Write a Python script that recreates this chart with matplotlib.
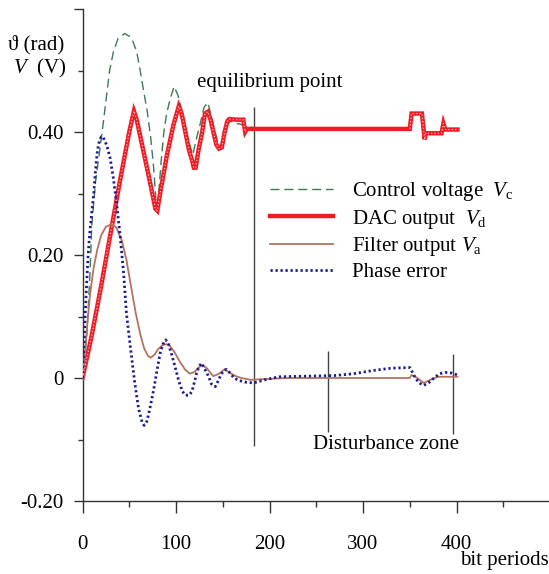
import matplotlib
matplotlib.use("Agg")
import matplotlib.pyplot as plt
from matplotlib.ticker import FixedLocator

plt.rcParams['font.family'] = ['Liberation Serif', 'DejaVu Serif']
plt.rcParams['mathtext.fontset'] = 'custom'
plt.rcParams['mathtext.rm'] = 'Liberation Serif'
plt.rcParams['mathtext.it'] = 'Liberation Serif:italic'

# ---- data (bit periods, value) ----
ctrl_x = [0, 3, 5, 8, 10, 14, 18, 21, 25, 29, 33, 38, 45, 50, 54, 58, 61, 65, 69, 73, 76, 79,
          81, 84, 87, 90, 94, 98, 102, 106, 110, 113, 118, 122, 126, 130, 134, 138, 142, 147,
          151, 154, 158, 163, 168, 175, 185, 250, 350, 352, 355, 363, 366, 368, 384, 386, 388, 401]
ctrl_y = [0, 0.04, 0.08, 0.17, 0.25, 0.32, 0.365, 0.40, 0.45, 0.50, 0.53, 0.552, 0.56, 0.556,
          0.547, 0.53, 0.506, 0.47, 0.436, 0.39, 0.344, 0.28,
          0.29, 0.35, 0.40, 0.43, 0.455, 0.474, 0.46, 0.436, 0.41, 0.387, 0.363, 0.39, 0.414,
          0.44, 0.448, 0.425, 0.398, 0.372, 0.39, 0.409, 0.418, 0.414, 0.413, 0.41, 0.406,
          0.405, 0.405, 0.428, 0.432, 0.43, 0.39, 0.398, 0.398, 0.414, 0.405, 0.405]

dac_x = [0, 10, 20, 30, 40, 50, 55, 58, 65, 72, 78, 80, 83, 90, 97, 103, 106, 110, 114, 117,
         119, 121, 124, 128, 131, 134, 137, 140, 143, 146, 149, 152, 155, 157, 165, 172, 174,
         176, 250, 350, 352, 355, 363, 366, 367, 384, 386, 388, 401]
dac_y = [0, 0.07, 0.15, 0.235, 0.32, 0.40, 0.434, 0.42, 0.37, 0.32, 0.275, 0.272, 0.30, 0.36,
         0.41, 0.442, 0.43, 0.40, 0.37, 0.355, 0.342, 0.342, 0.37, 0.40, 0.43, 0.433, 0.42, 0.40,
         0.38, 0.373, 0.375, 0.40, 0.418, 0.421, 0.42, 0.42, 0.40, 0.405, 0.405, 0.405, 0.43,
         0.43, 0.43, 0.388, 0.398, 0.398, 0.414, 0.404, 0.404]

filt_x = [0, 2, 5, 8, 12, 16, 20, 25, 31, 36, 42, 47, 52, 57, 62, 66, 70, 73, 77, 81, 86, 92,
          98, 104, 110, 115, 120, 124, 128, 133, 137, 140, 146, 152, 158, 164, 170, 180, 190,
          220, 350, 352, 358, 365, 372, 380, 401]
filt_y = [0, 0.03, 0.085, 0.135, 0.18, 0.21, 0.232, 0.246, 0.25, 0.245, 0.224, 0.192, 0.148,
          0.105, 0.07, 0.048, 0.036, 0.033, 0.038, 0.047, 0.054, 0.055, 0.043, 0.027, 0.013,
          0.007, 0.01, 0.017, 0.021, 0.016, 0.008, 0.003, 0.007, 0.014, 0.008, 0.003, 0.0,
          -0.003, -0.002, 0.0, 0.0, 0.005, 0.0, -0.008, -0.003, 0.002, 0.002]

phase_x = [0, 2, 4, 6, 8, 10, 12, 14, 16, 18, 20, 22, 26, 29.5, 33, 36, 40, 44, 47, 52, 56, 60,
           64, 66, 69, 72, 76, 80, 83, 86, 89, 92, 96, 99, 103, 107, 110, 114, 117, 120, 122,
           125, 127.5, 131, 135, 138, 142, 145, 148, 151, 154, 158, 162, 167, 175, 183, 195,
           210, 240, 270, 290, 310, 330, 350, 352, 356, 360, 365, 370, 376, 382, 388, 395, 401]
phase_y = [0, 0.07, 0.14, 0.2, 0.24, 0.27, 0.30, 0.34, 0.37, 0.385, 0.392, 0.392, 0.378,
           0.358, 0.325, 0.29, 0.235, 0.17, 0.105, 0.04, -0.009, -0.05, -0.073, -0.077, -0.07,
           -0.05, -0.02, 0.015, 0.04, 0.055, 0.062, 0.055, 0.035, 0.018, -0.005, -0.022,
           -0.028, -0.028, -0.022, -0.005, 0.008, 0.02, 0.024, 0.014, 0.002, -0.01, -0.014,
           -0.005, 0.005, 0.012, 0.014, 0.008, 0.0, -0.004, -0.007, -0.008, -0.003, 0.002,
           0.003, 0.004, 0.007, 0.012, 0.016, 0.017, 0.012, 0.0, -0.008, -0.012, -0.008, 0.0,
           0.007, 0.009, 0.008, 0.005]

eq_x = 183
dist_x = [263, 396]

labels = [r'Control voltage  $V_{\mathrm{c}}$', r'DAC output  $V_{\mathrm{d}}$',
          r'Filter output $V_{\mathrm{a}}$', 'Phase error']

# ---- figure ----
fig = plt.figure(figsize=(5.49, 5.74), dpi=100)
ax = fig.add_axes([82.5 / 549, 73 / 574, 467.5 / 549, 492 / 574])
ax.set_xlim(0, 500)
ax.set_ylim(-0.2, 0.6)

FS = 15
c_green = '#3d7a55'
c_red = '#ee1c25'
c_filt = '#b37262'
c_blue = '#1c1c8e'

l1, = ax.plot(ctrl_x, ctrl_y, color=c_green, lw=1.0, dashes=(6.5, 3.5), zorder=3)
l2, = ax.plot(dac_x, dac_y, color=c_red, lw=3.2, zorder=4, solid_joinstyle='miter')
# light sample-marker stripe only on the transient and disturbance parts
n1 = dac_x.index(176) + 1
n2 = dac_x.index(350)
ax.plot(dac_x[:n1], dac_y[:n1], color='#ffc8c8', lw=0.8, dashes=(1.2, 1.8), zorder=5)
ax.plot(dac_x[n2:], dac_y[n2:], color='#ffc8c8', lw=0.8, dashes=(1.2, 1.8), zorder=5)
l3, = ax.plot(filt_x, filt_y, color=c_filt, lw=1.3, zorder=4)
l4, = ax.plot(phase_x, phase_y, color=c_blue, lw=2.0, linestyle=(0, (0.8, 1.0)), zorder=6)

ax.vlines(eq_x, -0.11, 0.44, color='#444444', lw=1.0, zorder=2)
ax.vlines(dist_x[0], -0.088, 0.044, color='#444444', lw=1.0, zorder=2)
ax.vlines(dist_x[1], -0.091, 0.039, color='#444444', lw=1.0, zorder=2)

ax.text(122, 0.48, 'equilibrium point', fontsize=FS, va='center', ha='left')
ax.text(246, -0.108, 'Disturbance zone', fontsize=FS, va='center', ha='left')

for s in ['top', 'right']:
    ax.spines[s].set_visible(False)
for s in ['left', 'bottom']:
    ax.spines[s].set_color('#333333')
    ax.spines[s].set_linewidth(1.0)

ax.xaxis.set_major_locator(FixedLocator([0, 100, 200, 300, 400]))
ax.xaxis.set_minor_locator(FixedLocator([50, 150, 250, 350, 450]))
ax.set_xticklabels(['0', '100', '200', '300', '400'])
ax.yaxis.set_major_locator(FixedLocator([-0.2, 0, 0.2, 0.4, 0.6]))
ax.yaxis.set_minor_locator(FixedLocator([-0.1, 0.1, 0.3, 0.5]))
ax.set_yticklabels(['-0.20', '0', '0.20', '0.40', ''])
ax.tick_params(axis='x', which='major', length=8.6, width=1, pad=16, labelsize=FS, color='#333333')
ax.tick_params(axis='x', which='minor', length=4.5, width=1, color='#333333')
ax.tick_params(axis='y', which='major', length=6.5, width=1, pad=7, labelsize=FS, color='#333333')
ax.tick_params(axis='y', which='minor', length=3.5, width=1, color='#333333')

fig.text(8 / 549, 1 - 45 / 574, '\u03d1 (rad)', fontsize=FS, ha='left', va='center')
fig.text(13 / 549, 1 - 68 / 574, r'$V$  (V)', fontsize=FS, ha='left', va='center')
fig.text(0.999, 1 - 561 / 574, 'bit periods', fontsize=FS, ha='right', va='center')

leg = ax.legend([l1, l2, l3, l4], labels, loc='upper left',
                bbox_to_anchor=(270 / 549, 1 - 180 / 574), bbox_transform=fig.transFigure,
                frameon=False, fontsize=FS, handlelength=3.0, handletextpad=0.95,
                labelspacing=0.22, borderpad=0, borderaxespad=0)

fig.savefig('out.png', dpi=100)
